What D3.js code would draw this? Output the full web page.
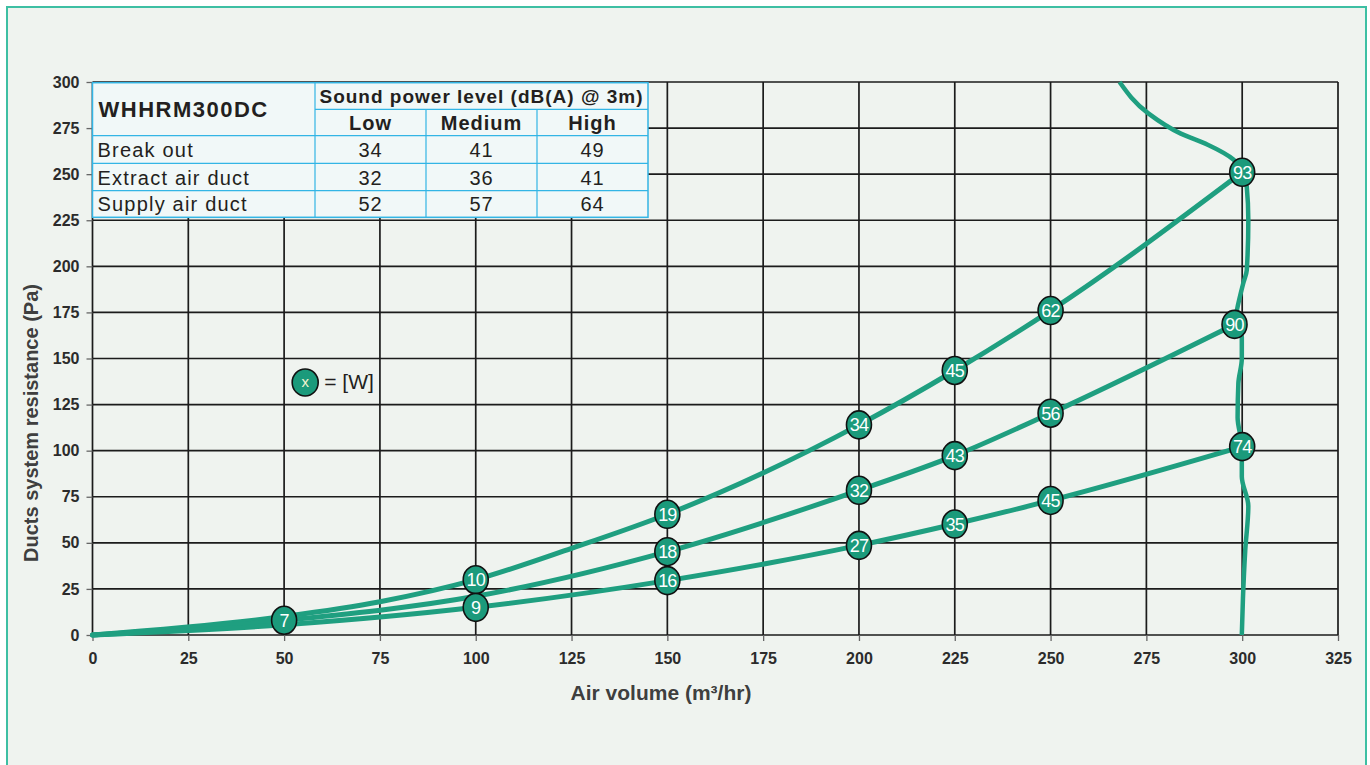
<!DOCTYPE html>
<html>
<head>
<meta charset="utf-8">
<script src="https://cdn.jsdelivr.net/npm/d3@7"></script>
<style>
  html, body { margin: 0; padding: 0; background: #ffffff; }
  svg { display: block; }
  text { font-family: "Liberation Sans", Arial, sans-serif; }
</style>
</head>
<body>
<svg id="chart" width="1370" height="765"></svg>
<script>
// ---------- DATA ----------
const xTicks = [0, 25, 50, 75, 100, 125, 150, 175, 200, 225, 250, 275, 300, 325];
const yTicks = [0, 25, 50, 75, 100, 125, 150, 175, 200, 225, 250, 275, 300];

// System curves (air volume m3/hr, resistance Pa)
const curveHighX = [0, 50, 75, 100, 125, 150, 200, 225, 250, 300];
const curveHighY = [0, 10, 18, 30, 47, 65.5, 114, 143.5, 176, 251];
const curveMidX  = [0, 50, 100, 150, 200, 225, 250, 298];
const curveMidY  = [0, 8, 21, 45.2, 78.5, 97.3, 120.3, 168.5];
const curveLowX  = [0, 50, 100, 150, 200, 225, 250, 300];
const curveLowY  = [0, 5.5, 15, 29.5, 48.6, 60.2, 73, 102.2];

// Fan max curve (ordered top to bottom)
const fanX = [268, 275.5, 284, 291, 297.7, 300, 301.2, 301.6, 301.2, 300.3, 298.6, 298, 299.9, 299.9, 299, 298.8, 299.9, 299.9, 301.6, 300.8, 300.2, 299.9];
const fanY = [300, 283, 272, 266, 258, 251, 243, 225, 198, 191, 176, 168.5, 162, 150, 136.5, 118, 102.2, 86, 70, 46, 20, 0];

// Power markers [W]
const markX     = [50, 100, 150, 200, 225, 250, 300, 150, 200, 225, 250, 298, 100, 150, 200, 225, 250, 300];
const markY     = [8, 30, 65.5, 114, 143.5, 176, 251, 45.2, 78.5, 97.3, 120.3, 168.5, 15, 29.5, 48.6, 60.2, 73, 102.2];
const markLabel = ["7", "10", "19", "34", "45", "62", "93", "18", "32", "43", "56", "90", "9", "16", "27", "35", "45", "74"];

// Sound table
const tableTitle = "WHHRM300DC";
const tableHeader = "Sound power level (dB(A) @ 3m)";
const tableCols = ["Low", "Medium", "High"];
const tableRows = ["Break out", "Extract air duct", "Supply air duct"];
const tableValues = [[34, 41, 49], [32, 36, 41], [52, 57, 64]];

const xTitle = "Air volume (m³/hr)";
const yTitle = "Ducts system resistance (Pa)";
const legendSymbol = "x";
const legendText = "= [W]";

// ---------- LAYOUT ----------
const svg = d3.select("#chart");
const TEAL = "#1f9f80";
const FRAME = "#3dbfa3";

svg.append("rect").attr("x", 0).attr("y", 0).attr("width", 1370).attr("height", 765).attr("fill", "#ffffff");
svg.append("rect").attr("x", 7).attr("y", 7).attr("width", 1359).attr("height", 770)
  .attr("fill", "#eff3ef").attr("stroke", FRAME).attr("stroke-width", 2);

const x = d3.scaleLinear().domain([0, 325]).range([92.5, 1338]);
const y = d3.scaleLinear().domain([0, 300]).range([635, 82]);

// grid
const grid = svg.append("g");
grid.selectAll("line.v").data(xTicks).join("line")
  .attr("x1", d => x(d)).attr("x2", d => x(d))
  .attr("y1", y(0)).attr("y2", y(300))
  .attr("stroke", "#1b1b1b").attr("stroke-width", 1.7);
grid.selectAll("line.h").data(yTicks).join("line")
  .attr("x1", x(0)).attr("x2", x(325))
  .attr("y1", d => y(d)).attr("y2", d => y(d))
  .attr("stroke", "#1b1b1b").attr("stroke-width", 1.7);

// axes
const xAxis = d3.axisBottom(x).tickValues(xTicks).tickSize(6).tickPadding(12).tickFormat(d3.format("d"));
const yAxis = d3.axisLeft(y).tickValues(yTicks).tickSize(6).tickPadding(7).tickFormat(d3.format("d"));
const gx = svg.append("g").attr("transform", `translate(0,${y(0)})`).call(xAxis);
const gy = svg.append("g").attr("transform", `translate(${x(0)},0)`).call(yAxis);
[gx, gy].forEach(g => {
  g.select(".domain").remove();
  g.selectAll(".tick line").attr("stroke", "#666").attr("stroke-width", 1.3);
  g.selectAll(".tick text").attr("fill", "#2b2b2b").attr("font-size", 16).attr("font-weight", "bold")
    .attr("font-family", "'Liberation Sans', Arial, sans-serif");
});

// axis titles
svg.append("text").attr("x", 661).attr("y", 700).attr("text-anchor", "middle")
  .attr("font-size", 21).attr("fill", "#262626").attr("font-weight", "bold").attr("fill-opacity", 0.9).text(xTitle);
svg.append("text").attr("transform", `translate(38,${y(115)}) rotate(-90)`)
  .attr("text-anchor", "middle").attr("font-size", 20).attr("font-weight", "bold").attr("fill", "#262626")
  .attr("fill-opacity", 0.9).text(yTitle);

// ---------- TABLE ----------
const tb = svg.append("g");
const colEdges = [x(0), 315, 426, 537, 648];
const rowEdges = [y(300) + 0.7, 109.3, 135.7, 163.3, 190.7, 217.3];
const TB = "#33b5e5";
tb.append("rect").attr("x", colEdges[0]).attr("y", rowEdges[0])
  .attr("width", colEdges[4] - colEdges[0]).attr("height", rowEdges[5] - rowEdges[0])
  .attr("fill", "#f1f8f8").attr("stroke", TB).attr("stroke-width", 1.5);
tb.append("line").attr("x1", colEdges[1]).attr("x2", colEdges[4]).attr("y1", rowEdges[1]).attr("y2", rowEdges[1]).attr("stroke", TB).attr("stroke-width", 1.2);
[2, 3, 4].forEach(i => tb.append("line").attr("x1", colEdges[0]).attr("x2", colEdges[4]).attr("y1", rowEdges[i]).attr("y2", rowEdges[i]).attr("stroke", TB).attr("stroke-width", 1.2));
tb.append("line").attr("x1", colEdges[1]).attr("x2", colEdges[1]).attr("y1", rowEdges[0]).attr("y2", rowEdges[5]).attr("stroke", TB).attr("stroke-width", 1.2);
[2, 3].forEach(i => tb.append("line").attr("x1", colEdges[i]).attr("x2", colEdges[i]).attr("y1", rowEdges[1]).attr("y2", rowEdges[5]).attr("stroke", TB).attr("stroke-width", 1.2));

const TXT = "#231f20";
tb.append("text").attr("x", colEdges[0] + 6).attr("y", (rowEdges[0] + rowEdges[2]) / 2 + 8)
  .attr("font-size", 22).attr("font-weight", "bold").attr("letter-spacing", 1.5).attr("fill", TXT).text(tableTitle);
tb.append("text").attr("x", (colEdges[1] + colEdges[4]) / 2).attr("y", rowEdges[1] - 6)
  .attr("text-anchor", "middle").attr("font-size", 19).attr("font-weight", "bold").attr("letter-spacing", 1).attr("fill", TXT).text(tableHeader);
tableCols.forEach((c, i) => tb.append("text").attr("x", (colEdges[i + 1] + colEdges[i + 2]) / 2).attr("y", rowEdges[2] - 6)
  .attr("text-anchor", "middle").attr("font-size", 20).attr("font-weight", "bold").attr("letter-spacing", 1).attr("fill", TXT).text(c));
tableRows.forEach((r, j) => {
  tb.append("text").attr("x", colEdges[0] + 5).attr("y", rowEdges[j + 3] - 6)
    .attr("font-size", 20).attr("letter-spacing", 1.2).attr("fill", TXT).text(r);
  tableValues[j].forEach((v, i) => tb.append("text").attr("x", (colEdges[i + 1] + colEdges[i + 2]) / 2).attr("y", rowEdges[j + 3] - 6)
    .attr("text-anchor", "middle").attr("font-size", 20).attr("letter-spacing", 1).attr("fill", TXT).text(v));
});

// ---------- CURVES ----------
const sysLine = d3.line().x(d => x(d[0])).y(d => y(d[1])).curve(d3.curveMonotoneX);
[[curveHighX, curveHighY], [curveMidX, curveMidY], [curveLowX, curveLowY]].forEach(([xs, ys]) => {
  svg.append("path").datum(xs.map((v, i) => [v, ys[i]]))
    .attr("d", sysLine).attr("fill", "none").attr("stroke", TEAL).attr("stroke-width", 5)
    .attr("stroke-linejoin", "round").attr("stroke-linecap", "round");
});
const fanLine = d3.line().x(d => x(d[0])).y(d => y(d[1])).curve(d3.curveMonotoneY);
svg.append("path").datum(fanX.map((v, i) => [v, fanY[i]]))
  .attr("d", fanLine).attr("fill", "none").attr("stroke", TEAL).attr("stroke-width", 4.5)
  .attr("stroke-linecap", "butt");

// ---------- MARKERS ----------
const mk = svg.append("g").selectAll("g").data(markX.map((v, i) => ({ x: v, y: markY[i], l: markLabel[i] })))
  .join("g").attr("transform", d => `translate(${x(d.x)},${y(d.y)})`);
mk.append("ellipse").attr("rx", 12.5).attr("ry", 14).attr("fill", "#1b9a7b").attr("stroke", "#111").attr("stroke-width", 1.6);
mk.append("text").attr("text-anchor", "middle").attr("y", 6.5).attr("font-size", 18).attr("letter-spacing", -0.8)
  .attr("fill", "#ffffff").text(d => d.l);

// ---------- LEGEND ----------
const lg = svg.append("g").attr("transform", `translate(${x(55.5)},${y(137)})`);
lg.append("ellipse").attr("rx", 13).attr("ry", 13.5).attr("fill", "#1b9a7b").attr("stroke", "#111").attr("stroke-width", 1.6);
lg.append("text").attr("text-anchor", "middle").attr("y", 5).attr("font-size", 15).attr("fill", "#f4f4d0").text(legendSymbol);
lg.append("text").attr("x", 19).attr("y", 7).attr("font-size", 21).attr("fill", "#231f20").text(legendText);
</script>
</body>
</html>
